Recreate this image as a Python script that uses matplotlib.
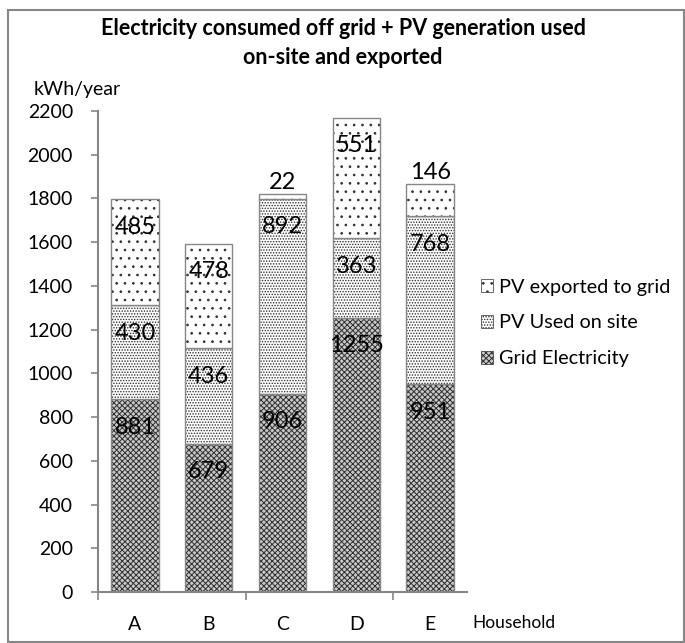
import matplotlib.pyplot as plt
import matplotlib.patches as mpatches
import numpy as np

households = ["A", "B", "C", "D", "E"]
grid = [881, 679, 906, 1255, 951]
pv_used = [430, 436, 892, 363, 768]
pv_exported = [485, 478, 22, 551, 146]

plt.rcParams['font.family'] = ['Lato', 'DejaVu Sans']
plt.rcParams['hatch.linewidth'] = 0.7

fig = plt.figure(figsize=(6.85, 6.43), dpi=100)
ax = fig.add_axes([98/685, 51/643, 369/685, 481/643])

x = np.arange(len(households))
w = 0.64
grey = '#868686'

series = [
    ("Grid Electricity", grid, 'xxxxxx', '#c8c8c8'),
    ("PV Used on site", pv_used, '......', 'white'),
    ("PV exported to grid", pv_exported, '..', 'white'),
]

bottom = np.zeros(len(x))
handles = []
for name, vals, hatch, fc in series:
    vals = np.array(vals)
    ax.bar(x, vals, w, bottom=bottom, color=fc, edgecolor='#303030',
           hatch=hatch, linewidth=0)
    ax.bar(x, vals, w, bottom=bottom, fill=False, edgecolor=grey, linewidth=1)
    tops = bottom + vals
    for xi, top, v in zip(x, tops, vals):
        # small segments get their label above the bar
        off = 12 if v < 200 else -28
        ax.annotate(str(v), (xi, top), xytext=(0, off), textcoords='offset pixels',
                    ha='center', va='center', fontsize=17)
    handles.append(mpatches.Patch(facecolor=fc, edgecolor='#303030', hatch=hatch,
                                  linewidth=0.5, label=name))
    bottom = tops

ax.set_xlim(-0.5, 4.5)
ax.set_ylim(0, 2200)
ax.set_yticks(range(0, 2201, 200))
ax.set_xticks([-0.5, 1.5, 3.5])
ax.set_xticklabels([])
ax.set_xticks(x, minor=True)
ax.set_xticklabels(households, minor=True)
ax.tick_params(axis='x', which='minor', length=0, pad=17, labelsize=14)
ax.tick_params(axis='x', which='major', length=6, color=grey, width=1.2)
ax.tick_params(axis='y', length=5, color=grey, width=1.2, pad=13, labelsize=14)
for s in ['top', 'right']:
    ax.spines[s].set_visible(False)
for s in ['left', 'bottom']:
    ax.spines[s].set_color(grey)
    ax.spines[s].set_linewidth(1.5)

fig.text(34/685, 1 - 90/643, "kWh/year", fontsize=14, va='center', ha='left')
fig.text(472/685, 1 - 623/643, "Household", fontsize=12.5, va='center', ha='left')
fig.text(343/685, 1 - 43/643, "Electricity consumed off grid + PV generation used\non-site and exported",
         fontsize=15.5, fontweight='bold', ha='center', va='center', linespacing=1.5)

ax.legend(handles=handles[::-1], loc='center left', bbox_to_anchor=(463/685, 1 - 323/643),
          bbox_transform=fig.transFigure, frameon=False, fontsize=14.3,
          handlelength=0.6, handleheight=0.6, handletextpad=0.3, labelspacing=0.95)

fig.add_artist(mpatches.Rectangle((8/685, 1/643), 676/685, 632/643, transform=fig.transFigure,
                                  fill=False, edgecolor=grey, linewidth=1.5))

fig.savefig("out.png", dpi=100)
